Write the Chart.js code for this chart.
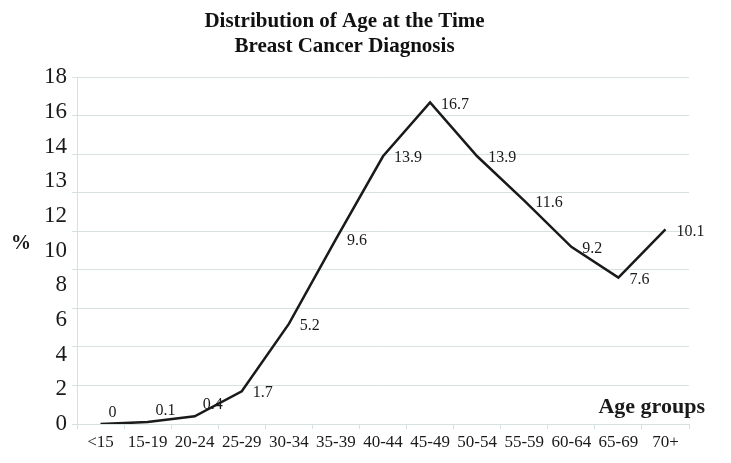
<!DOCTYPE html>
<html>
<head>
<meta charset="utf-8">
<script src="https://cdn.jsdelivr.net/npm/chart.js@4.4.1/dist/chart.umd.min.js"></script>
<style>
  html, body { margin: 0; padding: 0; background: #fff; }
  #wrap { width: 731px; height: 463px; }
</style>
</head>
<body>
<div id="wrap"><canvas id="ageChart"></canvas></div>
<script>
const ageGroups = ["<15", "15-19", "20-24", "25-29", "30-34", "35-39", "40-44", "45-49", "50-54", "55-59", "60-64", "65-69", "70+"];
const percents = [0, 0.1, 0.4, 1.7, 5.2, 9.6, 13.9, 16.7, 13.9, 11.6, 9.2, 7.6, 10.1];
// the printed axis labels do not sit on the gridlines in the original
const yLabels = ["0", "2", "4", "6", "8", "10", "12", "13", "14", "16", "18"];

const serif = "'Liberation Serif', 'DejaVu Serif', serif";
const gridColor = "#d6e1e1";

// value labels next to each point + the "%" and "Age groups" captions
const extraText = {
  id: "extraText",
  afterDatasetsDraw(chart) {
    const ctx = chart.ctx;
    const meta = chart.getDatasetMeta(0);
    const area = chart.chartArea;
    ctx.save();
    ctx.fillStyle = "#1a1a1a";
    ctx.font = "16px " + serif;
    ctx.textAlign = "left";
    ctx.textBaseline = "middle";
    meta.data.forEach((pt, i) => {
      const v = percents[i];
      if (v < 1) {
        ctx.fillText(String(v), pt.x + 8, pt.y - 11);
      } else {
        ctx.fillText(String(v), pt.x + 11, pt.y + 2);
      }
    });

    ctx.font = "bold 20px " + serif;
    ctx.textAlign = "center";
    ctx.fillText("%", 21, area.top + (area.bottom - area.top) * 0.48);

    ctx.font = "bold 22px " + serif;
    ctx.textAlign = "right";
    ctx.fillText("Age groups", area.right + 16, area.bottom - 17);
    ctx.restore();
  }
};

new Chart(document.getElementById("ageChart"), {
  type: "line",
  data: {
    labels: ageGroups,
    datasets: [{
      data: percents,
      borderColor: "#1a1a1a",
      borderWidth: 2.5,
      pointRadius: 0,
      tension: 0,
      fill: false
    }]
  },
  options: {
    responsive: true,
    maintainAspectRatio: false,
    animation: false,
    layout: { padding: { left: 0, right: 42, top: 0, bottom: 0 } },
    plugins: {
      legend: { display: false },
      tooltip: { enabled: false },
      title: {
        display: true,
        text: ["Distribution of Age at the Time", "Breast Cancer Diagnosis"],
        color: "#111",
        font: { family: serif, size: 21, weight: "bold", lineHeight: 1.15 },
        padding: { top: 10, bottom: 19 }
      }
    },
    scales: {
      x: {
        offset: true,
        grid: {
          offset: true,
          drawOnChartArea: false,
          drawTicks: true,
          tickLength: 5,
          color: gridColor
        },
        border: { color: gridColor },
        ticks: {
          color: "#1a1a1a",
          autoSkip: false,
          maxRotation: 0,
          padding: 3,
          font: { family: serif, size: 17 }
        },
        afterFit(scale) { scale.height = 39; }
      },
      y: {
        min: 0,
        max: 18,
        weight: 0,
        ticks: { stepSize: 2, display: false },
        grid: { color: gridColor, tickLength: 5, drawTicks: true },
        border: { color: gridColor }
      },
      yl: {
        type: "linear",
        position: "left",
        weight: 1,
        min: 0,
        max: 10,
        grid: { display: false, drawTicks: false },
        border: { display: false },
        ticks: {
          stepSize: 1,
          padding: 5,
          color: "#1a1a1a",
          font: { family: serif, size: 23 },
          callback: (value, index) => yLabels[index]
        },
        afterFit(scale) { scale.width = 72; }
      }
    }
  },
  plugins: [extraText]
});
</script>
</body>
</html>
